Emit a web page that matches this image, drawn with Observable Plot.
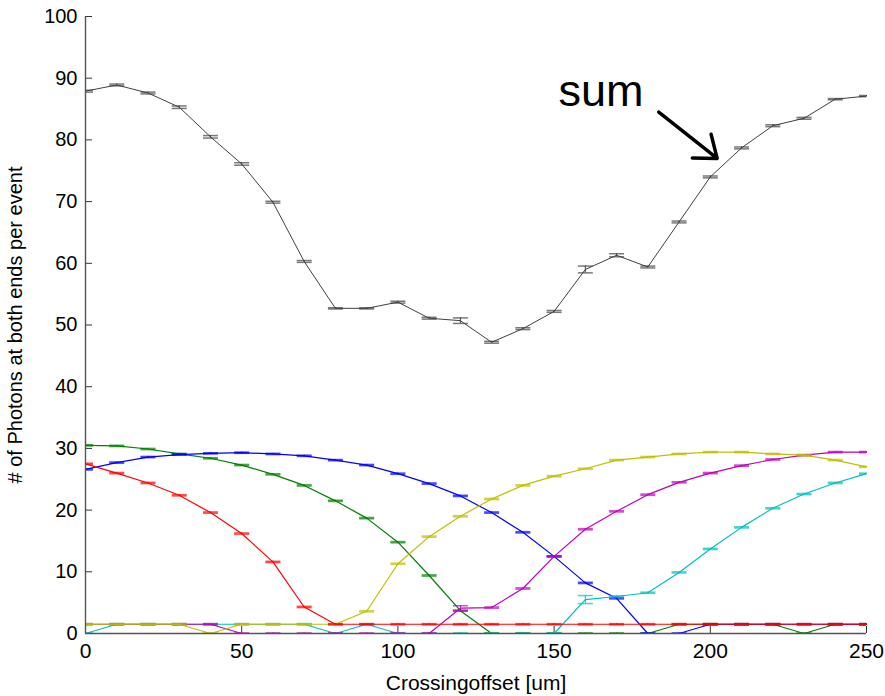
<!DOCTYPE html>
<html><head><meta charset="utf-8">
<script src="https://cdn.jsdelivr.net/npm/d3@7"></script>
<script src="https://cdn.jsdelivr.net/npm/@observablehq/plot@0.6"></script>
<style>html,body{margin:0;padding:0;background:#fff} svg{display:block}</style>
</head><body><div id="chart"></div>
<script>
// Crossing offset [um]
const offsets = [0,10,20,30,40,50,60,70,80,90,100,110,120,130,140,150,160,170,180,190,200,210,220,230,240,250];

// sum of all fibres
const sumVals = [87.9,88.9,87.6,85.3,80.5,76.1,69.9,60.3,52.7,52.7,53.7,51.1,50.7,47.2,49.4,52.2,59.0,61.3,59.4,66.7,74.0,78.7,82.3,83.5,86.6,87.1];
const sumErr  = [0.15,0.15,0.15,0.2,0.2,0.2,0.15,0.15,0.1,0.1,0.15,0.15,0.45,0.15,0.15,0.15,0.55,0.25,0.15,0.15,0.15,0.15,0.15,0.15,0.1,0.1];

// individual series
const redVals     = [27.5,26.0,24.4,22.4,19.6,16.2,11.6,4.3,1.5,1.5,1.5,1.5,1.5,1.5,1.5,1.5,1.5,1.5,1.5,1.5,1.5,1.5,1.5,1.5,1.5,1.5];
const greenVals   = [30.5,30.4,29.9,29.1,28.4,27.3,25.8,24.0,21.5,18.7,14.8,9.4,3.7,0,0,0,0,0,0,1.5,1.5,1.5,1.5,0,1.5,1.5];
const blueVals    = [26.6,27.7,28.6,29.0,29.2,29.3,29.1,28.8,28.1,27.3,25.9,24.3,22.3,19.6,16.4,12.5,8.2,5.7,0,0,1.5,1.5,1.5,1.5,1.5,1.5];
const yellowVals  = [1.5,1.5,1.5,1.5,0,1.5,1.5,1.5,1.5,3.6,11.3,15.7,19.0,21.8,24.0,25.5,26.7,28.1,28.6,29.1,29.4,29.4,29.1,28.9,28.1,27.0];
const magentaVals = [1.5,1.5,1.5,1.5,1.5,0,0,0,0,0,0,0,4.1,4.2,7.3,12.5,16.9,19.8,22.5,24.5,26.0,27.2,28.2,28.9,29.4,29.4];
const cyanVals    = [0,1.5,1.5,1.5,1.5,1.5,1.5,1.5,0,1.5,0,0,0,0,0,0,5.5,6.0,6.6,9.9,13.7,17.2,20.3,22.6,24.4,25.9];

const redErr     = [0.1,0.1,0.1,0.1,0.1,0.1,0.1,0.1,0.1,0.1,0.1,0.1,0.1,0.1,0.1,0.1,0.1,0.1,0.1,0.1,0.1,0.1,0.1,0.1,0.1,0.1];
const greenErr   = [0.1,0.1,0.1,0.1,0.1,0.1,0.1,0.1,0.1,0.1,0.1,0.1,0.1,0.1,0.1,0.1,0.1,0.1,0.1,0.1,0.1,0.1,0.1,0.1,0.1,0.1];
const blueErr    = [0.1,0.1,0.1,0.1,0.1,0.1,0.1,0.1,0.1,0.1,0.1,0.1,0.1,0.1,0.1,0.1,0.1,0.1,0.1,0.1,0.1,0.1,0.1,0.1,0.1,0.1];
const yellowErr  = [0.1,0.1,0.1,0.1,0.1,0.1,0.1,0.1,0.1,0.1,0.1,0.1,0.1,0.1,0.1,0.1,0.1,0.1,0.1,0.1,0.1,0.1,0.1,0.1,0.1,0.1];
const magentaErr = [0.1,0.1,0.1,0.1,0.1,0.1,0.1,0.1,0.1,0.1,0.1,0.1,0.4,0.1,0.1,0.1,0.1,0.1,0.1,0.1,0.1,0.1,0.1,0.1,0.1,0.1];
const cyanErr    = [0.1,0.1,0.1,0.1,0.1,0.1,0.1,0.1,0.1,0.1,0.1,0.1,0.1,0.1,0.1,0.1,0.65,0.1,0.1,0.1,0.1,0.1,0.1,0.1,0.1,0.1];

// tick labels
const xTicks = [0,50,100,150,200,250];
const yTicks = [0,10,20,30,40,50,60,70,80,90,100];

// annotation
const annoLabel = [{x: 165, y: 87.9, text: "sum"}];
const annoArrow = [{x1: 183.5, y1: 84.5, x2: 202.2, y2: 77.0}];

// drawing order (later on top) and colours
const seriesList = [
  {name: "sum",     vals: sumVals,     err: sumErr,     color: "#404040", w: 1.0},
  {name: "green",   vals: greenVals,   err: greenErr,   color: "#008000", w: 1.2},
  {name: "blue",    vals: blueVals,    err: blueErr,    color: "#0000ff", w: 1.2},
  {name: "cyan",    vals: cyanVals,    err: cyanErr,    color: "#00bfbf", w: 1.2},
  {name: "magenta", vals: magentaVals, err: magentaErr, color: "#bf00bf", w: 1.2},
  {name: "yellow",  vals: yellowVals,  err: yellowErr,  color: "#bfbf00", w: 1.2},
  {name: "red",     vals: redVals,     err: redErr,     color: "#ff0000", w: 1.2}
];

const capHalf = 2.4; // half-width of error bar caps in x units
const seriesMarks = seriesList.flatMap(s => {
  const rows = offsets.map((x, i) => ({x, y: s.vals[i], e: s.err[i]}));
  return [
    Plot.line(rows, {x: "x", y: "y", stroke: s.color, strokeWidth: s.w}),
    Plot.ruleX(rows, {x: "x", y1: d => d.y - d.e, y2: d => d.y + d.e, stroke: s.color, strokeWidth: 1}),
    Plot.link(rows, {x1: d => d.x - capHalf, x2: d => d.x + capHalf, y1: d => d.y + d.e, y2: d => d.y + d.e, stroke: s.color, strokeWidth: 1.5, strokeOpacity: 0.7, clip: true}),
    Plot.link(rows, {x1: d => d.x - capHalf, x2: d => d.x + capHalf, y1: d => d.y - d.e, y2: d => d.y - d.e, stroke: s.color, strokeWidth: 1.5, strokeOpacity: 0.7, clip: true})
  ];
});

const chart = Plot.plot({
  width: 885,
  height: 696,
  marginLeft: 85,
  marginRight: 19,
  marginTop: 16,
  marginBottom: 63,
  style: {fontFamily: "'Liberation Sans', Arial, Helvetica, sans-serif", fontSize: "20px", background: "#fff", color: "#000"},
  x: {domain: [0, 250]},
  y: {domain: [0, 100]},
  marks: [
    Plot.axisX(xTicks, {label: "Crossingoffset [um]", labelAnchor: "center", labelArrow: "none", labelOffset: 56, tickSize: 0, tickPadding: 10, fontSize: 21}),
    Plot.axisY(yTicks, {label: "# of Photons at both ends per event", labelAnchor: "center", labelArrow: "none", labelOffset: 78, tickSize: 0, tickPadding: 8, fontSize: 20}),
    Plot.tickX(xTicks, {x: d => d, insetTop: 617 - 7, stroke: "#333", strokeWidth: 1}),
    Plot.tickY(yTicks, {y: d => d, insetRight: 781 - 7, stroke: "#333", strokeWidth: 1}),
    ...seriesMarks,
    Plot.ruleX([0], {stroke: "#555", strokeWidth: 1.4}),
    Plot.ruleY([0], {stroke: "#555", strokeWidth: 1.4}),
    Plot.arrow(annoArrow, {x1: "x1", y1: "y1", x2: "x2", y2: "y2", stroke: "#000", strokeWidth: 3.5, headLength: 20, headAngle: 75}),
    Plot.text(annoLabel, {x: "x", y: "y", text: "text", fontSize: 45, fill: "#000", textAnchor: "middle"})
  ]
});
document.getElementById("chart").appendChild(chart);
</script>
</body></html>
